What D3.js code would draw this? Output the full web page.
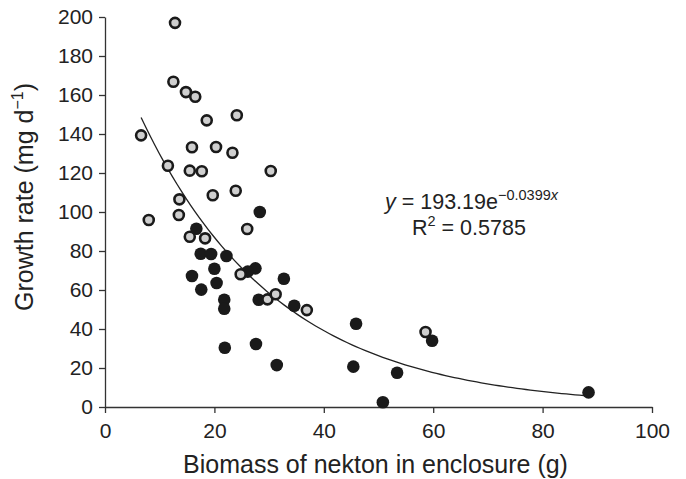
<!DOCTYPE html>
<html lang="en">
<head>
  <meta charset="utf-8">
  <title>Growth rate vs nekton biomass</title>
  <script src="https://d3js.org/d3.v7.min.js"></script>
  <style>
  body { margin: 0; background: #fff; }
  svg { font-family: "Liberation Sans", Arial, sans-serif; }
  </style>
</head>
<body>
  <script>
  // enclosures with grey (open) symbols
  var greyX = [12.8, 12.5, 14.8, 16.5, 18.6, 24.1, 6.6, 15.9, 20.3, 23.3, 11.5, 15.5, 17.7, 30.3,
               13.6, 19.7, 23.9, 8.0, 13.5, 26.0, 15.5, 18.3, 24.8, 29.7, 31.2, 36.9, 58.6];
  var greyY = [197, 166.8, 161.5, 159.1, 147, 149.6, 139.3, 133.2, 133.3, 130.4, 123.7, 121.2, 120.9, 121,
               106.5, 108.6, 110.9, 95.9, 98.5, 91.3, 87.3, 86.5, 68.1, 55.2, 57.8, 49.7, 38.5];

  // enclosures with black (filled) symbols
  var blackX = [16.7, 28.3, 17.5, 19.4, 22.2, 20.0, 27.5, 26.1, 15.9, 20.4, 32.7, 17.6, 21.8, 21.8,
                28.1, 34.6, 21.9, 27.6, 31.4, 45.9, 45.4, 50.8, 53.4, 59.8, 88.4];
  var blackY = [91.4, 100, 78.6, 78.5, 77.4, 70.9, 71.1, 69.4, 67.2, 63.6, 65.8, 60.2, 55, 50.4,
                55, 51.9, 30.4, 32.3, 21.5, 42.7, 20.7, 2.4, 17.6, 34, 7.5];

  var xTicks = [0, 20, 40, 60, 80, 100];
  var yTicks = [0, 20, 40, 60, 80, 100, 120, 140, 160, 180, 200];

  // exponential fit shown on the chart
  var fitA = 193.19, fitB = -0.0399, fitR2 = "0.5785";

  var width = 686, height = 479;
  var margin = {top: 17, right: 34, bottom: 72, left: 105};

  var svg = d3.select("body").append("svg")
    .attr("width", width)
    .attr("height", height);

  var x = d3.scaleLinear().domain([0, 100]).range([margin.left, width - margin.right]);
  var y = d3.scaleLinear().domain([0, 200]).range([height - margin.bottom, margin.top]);

  var xAxis = svg.append("g")
    .attr("transform", "translate(0," + y(0) + ")")
    .call(d3.axisBottom(x).tickValues(xTicks).tickSize(6).tickSizeOuter(0).tickPadding(10));

  var yAxis = svg.append("g")
    .attr("transform", "translate(" + x(0) + ",0)")
    .call(d3.axisLeft(y).tickValues(yTicks).tickSize(6).tickSizeOuter(0).tickPadding(6));

  [xAxis, yAxis].forEach(function(g) {
    g.selectAll("path, line").attr("stroke", "#333").attr("stroke-width", 1.3);
    g.selectAll("text")
      .attr("fill", "#222")
      .style("font-size", "21px")
      .style("font-family", "'Liberation Sans', Arial, sans-serif");
  });

  // fitted curve
  var xMin = d3.min(greyX.concat(blackX)), xMax = d3.max(greyX.concat(blackX));
  var fitPts = d3.range(0, 101).map(function(i) {
    var xv = xMin + (xMax - xMin) * i / 100;
    return [xv, fitA * Math.exp(fitB * xv)];
  });

  svg.append("path")
    .datum(fitPts)
    .attr("fill", "none")
    .attr("stroke", "#222")
    .attr("stroke-width", 1.3)
    .attr("d", d3.line().x(function(d) { return x(d[0]); }).y(function(d) { return y(d[1]); }));

  svg.append("g").selectAll("circle")
    .data(d3.range(blackX.length))
    .join("circle")
    .attr("cx", function(i) { return x(blackX[i]); })
    .attr("cy", function(i) { return y(blackY[i]); })
    .attr("r", 6.3)
    .attr("fill", "#1a1a1a");

  svg.append("g").selectAll("circle")
    .data(d3.range(greyX.length))
    .join("circle")
    .attr("cx", function(i) { return x(greyX[i]); })
    .attr("cy", function(i) { return y(greyY[i]); })
    .attr("r", 5)
    .attr("fill", "#cfcfcf")
    .attr("stroke", "#1a1a1a")
    .attr("stroke-width", 2.6);

  // equation
  var eq = svg.append("text")
    .attr("x", 385)
    .attr("y", 209)
    .attr("fill", "#222")
    .style("font-size", "21.5px");
  eq.append("tspan").style("font-style", "italic").text("y");
  eq.append("tspan").text(" = " + fitA + "e");
  eq.append("tspan").attr("dy", -9).style("font-size", "14.5px").text("\u2212" + Math.abs(fitB));
  eq.append("tspan").style("font-size", "14.5px").style("font-style", "italic").text("x");

  var r2 = svg.append("text")
    .attr("x", 412)
    .attr("y", 235)
    .attr("fill", "#222")
    .style("font-size", "21.5px");
  r2.append("tspan").text("R");
  r2.append("tspan").attr("dy", -9).style("font-size", "14.5px").text("2");
  r2.append("tspan").attr("dy", 9).text(" = " + fitR2);

  // axis titles
  svg.append("text")
    .attr("x", (x(0) + x(100)) / 2 - 3)
    .attr("y", 473)
    .attr("text-anchor", "middle")
    .attr("fill", "#222")
    .style("font-size", "25px")
    .text("Biomass of nekton in enclosure (g)");

  var yt = svg.append("text")
    .attr("transform", "translate(33," + 197 + ") rotate(-90)")
    .attr("text-anchor", "middle")
    .attr("fill", "#222")
    .style("font-size", "25px");
  yt.append("tspan").text("Growth rate (mg d");
  yt.append("tspan").attr("dy", -10).style("font-size", "16px").text("\u22121");
  yt.append("tspan").attr("dy", 10).text(")");
  </script>
</body>
</html>
